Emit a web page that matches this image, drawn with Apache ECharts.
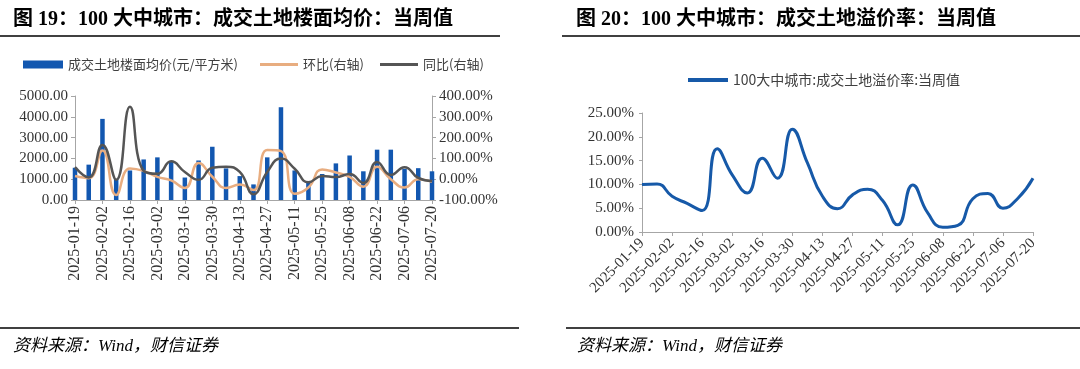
<!DOCTYPE html>
<html><head><meta charset="utf-8">
<script src="https://cdn.jsdelivr.net/npm/echarts@6/dist/echarts.min.js"></script>
<style>html,body{margin:0;padding:0;background:#fff}#c{width:1080px;height:369px}</style>
</head><body><div id="c"></div>
<script>
// ---- data ----
const dates = ['2025-01-19','2025-01-26','2025-02-02','2025-02-09','2025-02-16','2025-02-23','2025-03-02','2025-03-09','2025-03-16','2025-03-23','2025-03-30','2025-04-06','2025-04-13','2025-04-20','2025-04-27','2025-05-04','2025-05-11','2025-05-18','2025-05-25','2025-06-01','2025-06-08','2025-06-15','2025-06-22','2025-06-29','2025-07-06','2025-07-13','2025-07-20'];
const priceAvg = [1550,1700,3900,1000,1420,1950,2050,1850,1080,1900,2560,1520,1150,750,2050,4460,1420,850,1250,1760,2140,1380,2420,2420,1500,1530,1380];
const momPct = [15,5,138,-76,52,40,11,-6,-42,78,12,-42,-26,-52,140,135,-70,-40,47,32,11,-36,60,0,-40,0,-12];
const yoyPct = [58,8,165,-3,348,40,26,86,35,-3,55,60,35,-72,35,100,50,-15,15,10,25,-18,83,20,58,6,-9];
const premiumRate = [10.0,10.1,7.5,6.0,4.5,17.5,12.0,8.2,15.5,11.3,21.6,14.5,7.5,4.9,7.8,9.0,6.6,1.5,9.9,4.0,1.0,1.4,7.0,8.1,5.0,7.1,11.3];
const leftTitle = '图 19：100 大中城市：成交土地楼面均价：当周值';
const rightTitle = '图 20：100 大中城市：成交土地溢价率：当周值';
const sourceText = '资料来源：Wind，财信证券';
const nameBar = '成交土地楼面均价(元/平方米)';
const nameMom = '环比(右轴)';
const nameYoy = '同比(右轴)';
const namePrem = '100大中城市:成交土地溢价率:当周值';

// ---- styles ----
const CJK = '"Noto Sans CJK SC", sans-serif';
const SERIF = '"Liberation Serif", "Times New Roman", serif';
const axisGray = '#a6a6a6';
const lblColor = '#333';

const chart = echarts.init(document.getElementById('c'), null, {renderer: 'canvas'});
const legendText = {fontFamily: CJK, fontSize: 13, color: '#404040'};

chart.setOption({
  animation: false,
  backgroundColor: '#fff',
  grid: [
    {left: 75, right: 648, top: 96, bottom: 169, containLabel: false},
    {left: 642, right: 47, top: 113, bottom: 137, containLabel: false}
  ],
  legend: [
    {left: 18, top: 53, itemWidth: 40, itemHeight: 8, itemGap: 0, data: [{name: nameBar, icon: 'rect'}], textStyle: legendText, selectedMode: false},
    {left: 255, top: 53, itemWidth: 38, itemHeight: 3, itemGap: 0, data: [{name: nameMom, icon: 'rect'}], textStyle: legendText, selectedMode: false},
    {left: 375, top: 53, itemWidth: 38, itemHeight: 3, itemGap: 0, data: [{name: nameYoy, icon: 'rect'}], textStyle: legendText, selectedMode: false},
    {left: 683, top: 68, itemWidth: 40, itemHeight: 4, itemGap: 0, data: [{name: namePrem, icon: 'rect'}], textStyle: {fontFamily: CJK, fontSize: 14, color: '#404040'}, selectedMode: false}
  ],
  xAxis: [
    {gridIndex: 0, type: 'category', data: dates, boundaryGap: false,
     axisLine: {lineStyle: {color: axisGray, width: 1}},
     axisTick: {interval: 1, length: 4, lineStyle: {color: axisGray}},
     axisLabel: {interval: 1, rotate: 90, fontFamily: SERIF, fontSize: 16, color: lblColor, margin: 6}},
    {gridIndex: 1, type: 'category', data: dates, boundaryGap: false,
     axisLine: {lineStyle: {color: axisGray, width: 1}},
     axisTick: {interval: 1, length: 4, lineStyle: {color: axisGray}},
     axisLabel: {interval: 1, rotate: 45, fontFamily: SERIF, fontSize: 15, color: lblColor, margin: 9}}
  ],
  yAxis: [
    {gridIndex: 0, type: 'value', min: 0, max: 5000, interval: 1000,
     axisLine: {show: true, lineStyle: {color: axisGray}},
     axisTick: {show: true, length: 4, lineStyle: {color: axisGray}},
     splitLine: {show: false},
     axisLabel: {formatter: v => v.toFixed(2), fontFamily: SERIF, fontSize: 15, color: lblColor, margin: 7}},
    {gridIndex: 0, type: 'value', position: 'right', min: -100, max: 400, interval: 100,
     axisLine: {show: true, lineStyle: {color: axisGray}},
     axisTick: {show: true, length: 4, lineStyle: {color: axisGray}},
     splitLine: {show: false},
     axisLabel: {formatter: v => v.toFixed(2) + '%', fontFamily: SERIF, fontSize: 15, color: lblColor, margin: 7}},
    {gridIndex: 1, type: 'value', min: 0, max: 25, interval: 5,
     axisLine: {show: true, lineStyle: {color: axisGray}},
     axisTick: {show: true, length: 3, lineStyle: {color: axisGray}},
     splitLine: {show: false},
     axisLabel: {formatter: v => v.toFixed(2) + '%', fontFamily: SERIF, fontSize: 15, color: lblColor, margin: 8}}
  ],
  series: [
    {name: nameBar, type: 'bar', xAxisIndex: 0, yAxisIndex: 0, data: priceAvg, barWidth: 4.5,
     itemStyle: {color: '#1257b0'}},
    {name: nameMom, type: 'line', xAxisIndex: 0, yAxisIndex: 1, data: momPct, smooth: 0.5, symbol: 'none',
     lineStyle: {color: '#e8ad80', width: 2.5}, itemStyle: {color: '#e8ad80'}},
    {name: nameYoy, type: 'line', xAxisIndex: 0, yAxisIndex: 1, data: yoyPct, smooth: 0.5, symbol: 'none',
     lineStyle: {color: '#555555', width: 2.5}, itemStyle: {color: '#555555'}},
    {name: namePrem, type: 'line', xAxisIndex: 1, yAxisIndex: 2, data: premiumRate, smooth: 0.5, symbol: 'none',
     lineStyle: {color: '#1659a8', width: 3}, itemStyle: {color: '#1659a8'}}
  ],
  graphic: [
    {type: 'text', x: 13, y: 20, style: {text: leftTitle, fontFamily: SERIF + ',' + CJK, fontSize: 20, fontWeight: 'bold', fill: '#000', verticalAlign: 'middle'}},
    {type: 'text', x: 576, y: 20, style: {text: rightTitle, fontFamily: SERIF + ',' + CJK, fontSize: 20, fontWeight: 'bold', fill: '#000', verticalAlign: 'middle'}},
    {type: 'line', shape: {x1: 0, y1: 36, x2: 500, y2: 36}, style: {stroke: '#000', lineWidth: 1.5}},
    {type: 'line', shape: {x1: 562, y1: 36, x2: 1080, y2: 36}, style: {stroke: '#000', lineWidth: 1.5}},
    {type: 'line', shape: {x1: 0, y1: 328, x2: 519, y2: 328}, style: {stroke: '#000', lineWidth: 1.5}},
    {type: 'line', shape: {x1: 566, y1: 328, x2: 1080, y2: 328}, style: {stroke: '#000', lineWidth: 1.5}},
    {type: 'text', x: 13, y: 347, style: {text: sourceText, fontFamily: SERIF + ',' + CJK, fontSize: 17, fontStyle: 'italic', fill: '#000', verticalAlign: 'middle'}},
    {type: 'text', x: 577, y: 347, style: {text: sourceText, fontFamily: SERIF + ',' + CJK, fontSize: 17, fontStyle: 'italic', fill: '#000', verticalAlign: 'middle'}}
  ]
});
</script>
</body></html>
